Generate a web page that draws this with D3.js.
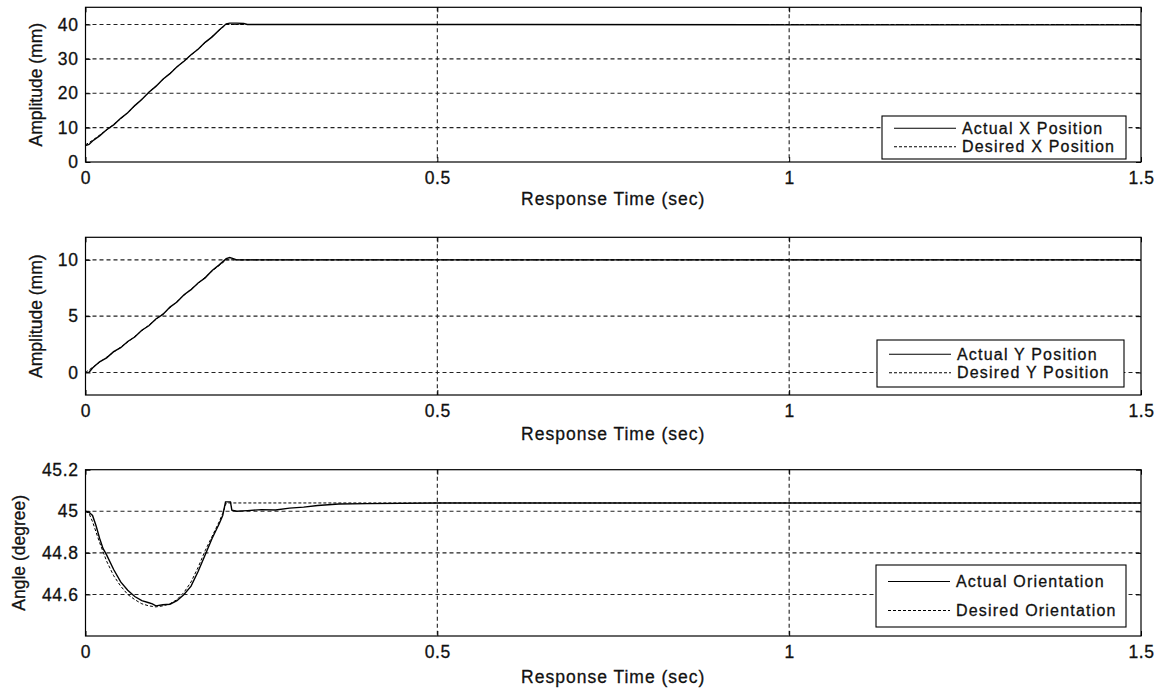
<!DOCTYPE html>
<html>
<head>
<meta charset="utf-8">
<script src="https://cdn.jsdelivr.net/npm/d3@7"></script>
<style>
  html, body { margin: 0; padding: 0; background: #fff; }
  svg { display: block; }
  text { font-family: "Liberation Sans", Arial, sans-serif; fill: #111; }
</style>
</head>
<body>
<svg id="chart" width="1164" height="692"></svg>
<script>
// ---------------- DATA ----------------
const xTicks = [0, 0.5, 1, 1.5];
const xTickLabels = ["0", "0.5", "1", "1.5"];
const xGridValues = [0.5, 1];

// Panel 1 : X position (mm)
const p1Ticks = [0, 10, 20, 30, 40];
const p1Grid = [10, 20, 30, 40];
const xDesiredT = [0, 0.01, 0.02, 0.03, 0.04, 0.05, 0.06, 0.07, 0.08, 0.09, 0.10, 0.11, 0.12, 0.13, 0.14, 0.15, 0.16, 0.17, 0.18, 0.19, 0.20, 1.5];
const xDesired  = [5, 6.3, 7.8, 9.3, 10.9, 12.6, 14.4, 16.3, 18.3, 20.2, 22.1, 24.0, 25.8, 27.6, 29.4, 31.1, 32.9, 34.7, 36.5, 38.3, 40, 40];
const xActualT = [0, 0.005, 0.01, 0.02, 0.03, 0.04, 0.05, 0.06, 0.07, 0.08, 0.09, 0.10, 0.11, 0.12, 0.13, 0.14, 0.15, 0.16, 0.17, 0.18, 0.19, 0.20, 0.205, 0.215, 0.225, 0.23, 0.3, 0.5, 1.0, 1.5];
const xActual  = [4.8, 5.1, 6.1, 7.6, 9.4, 10.8, 12.7, 14.3, 16.4, 18.2, 20.3, 22.0, 24.1, 25.7, 27.7, 29.3, 31.2, 32.8, 34.8, 36.4, 38.4, 40.2, 40.4, 40.4, 40.3, 40.0, 40.0, 40.0, 39.9, 39.9];

// Panel 2 : Y position (mm)
const p2Ticks = [0, 5, 10];
const p2Grid = [0, 5, 10];
const yDesiredT = [0, 0.01, 0.02, 0.03, 0.04, 0.05, 0.06, 0.07, 0.08, 0.09, 0.10, 0.11, 0.12, 0.13, 0.14, 0.15, 0.16, 0.17, 0.18, 0.19, 0.20, 1.5];
const yDesired  = [0, 0.45, 0.9, 1.35, 1.8, 2.25, 2.7, 3.2, 3.7, 4.2, 4.7, 5.2, 5.75, 6.3, 6.85, 7.4, 7.9, 8.45, 9.0, 9.5, 10.0, 10.0];
const yActualT = [0.005, 0.01, 0.02, 0.03, 0.04, 0.05, 0.06, 0.07, 0.08, 0.09, 0.10, 0.11, 0.12, 0.13, 0.14, 0.15, 0.16, 0.17, 0.18, 0.19, 0.20, 0.205, 0.21, 0.215, 1.5];
const yActual  = [0.02, 0.4, 0.95, 1.3, 1.85, 2.2, 2.75, 3.15, 3.75, 4.15, 4.75, 5.15, 5.8, 6.25, 6.9, 7.35, 7.95, 8.4, 9.05, 9.55, 10.1, 10.2, 10.1, 10.0, 10.0];

// Panel 3 : Orientation (degree)
const p3Ticks = [44.6, 44.8, 45, 45.2];
const p3Grid = [44.6, 44.8, 45];
const thDesiredT = [0, 0.005, 0.01, 0.015, 0.02, 0.03, 0.04, 0.05, 0.06, 0.07, 0.08, 0.09, 0.10, 0.11, 0.12, 0.13, 0.14, 0.15, 0.16, 0.17, 0.18, 0.19, 0.195, 0.2, 1.5];
const thDesired  = [45.0, 44.99, 44.95, 44.9, 44.85, 44.76, 44.69, 44.64, 44.6, 44.575, 44.555, 44.545, 44.54, 44.545, 44.555, 44.575, 44.61, 44.66, 44.73, 44.81, 44.88, 44.95, 44.99, 45.04, 45.04];
const thActualT = [0, 0.005, 0.01, 0.015, 0.02, 0.025, 0.03, 0.04, 0.05, 0.06, 0.07, 0.08, 0.09, 0.095, 0.10, 0.11, 0.12, 0.13, 0.14, 0.15, 0.16, 0.17, 0.18, 0.19, 0.195, 0.199, 0.206, 0.208, 0.215, 0.23, 0.25, 0.27, 0.29, 0.31, 0.33, 0.36, 0.40, 0.5, 1.0, 1.5];
const thActual  = [45.0, 44.995, 44.98, 44.93, 44.87, 44.82, 44.79, 44.72, 44.66, 44.62, 44.59, 44.57, 44.56, 44.555, 44.545, 44.55, 44.553, 44.57, 44.6, 44.64, 44.71, 44.79, 44.87, 44.94, 44.98, 45.045, 45.045, 45.005, 45.0, 45.003, 45.008, 45.006, 45.015, 45.02, 45.028, 45.035, 45.037, 45.04, 45.04, 45.04];

const legendNames1 = ["Actual X Position", "Desired X Position"];
const legendNames2 = ["Actual Y Position", "Desired Y Position"];
const legendNames3 = ["Actual Orientation", "Desired Orientation"];
const yLabels = ["Amplitude (mm)", "Amplitude (mm)", "Angle (degree)"];
const xLabel = "Response Time (sec)";

// ---------------- LAYOUT ----------------
const svg = d3.select("#chart");
const X0 = 85.5, X1 = 1141;
const x = d3.scaleLinear().domain([0, 1.5]).range([X0, X1]);
const FONT = "Liberation Sans, Arial, sans-serif";

const panels = [
  { top: 7.3, bottom: 162, domain: [0, 45], ticks: p1Ticks, grid: p1Grid, fmt: d => d,
    actual: [xActualT, xActual], desired: [xDesiredT, xDesired], names: legendNames1,
    ylab: yLabels[0], ylabX: 36, xlabY: 199,
    legend: { x: 882, y: 116, w: 244, h: 43, rowGap: 18.5 } },
  { top: 237.3, bottom: 395, domain: [-2, 12], ticks: p2Ticks, grid: p2Grid, fmt: d => d,
    actual: [yActualT, yActual], desired: [yDesiredT, yDesired], names: legendNames2,
    ylab: yLabels[1], ylabX: 36, xlabY: 434,
    legend: { x: 877, y: 340, w: 247, h: 47, rowGap: 18.5 } },
  { top: 469.7, bottom: 636, domain: [44.4, 45.2], ticks: p3Ticks, grid: p3Grid, fmt: d => (+d.toFixed(1)).toString(),
    actual: [thActualT, thActual], desired: [thDesiredT, thDesired], names: legendNames3,
    ylab: yLabels[2], ylabX: 18.5, xlabY: 677,
    legend: { x: 876, y: 565, w: 250, h: 62, rowGap: 29 } }
];

function styleText(sel, size, spacing) {
  sel.attr("font-size", size).attr("font-family", FONT)
    .attr("letter-spacing", spacing)
    .attr("fill", "#111").attr("stroke", "#111").attr("stroke-width", 0.3);
}

panels.forEach(p => {
  const y = d3.scaleLinear().domain(p.domain).range([p.bottom, p.top]);
  const g = svg.append("g");

  // grid
  g.append("g").selectAll("line").data(p.grid.filter(v => v > p.domain[0] && v < p.domain[1]))
    .join("line")
    .attr("x1", X0).attr("x2", X1)
    .attr("y1", d => y(d)).attr("y2", d => y(d))
    .attr("stroke", "#222").attr("stroke-width", 1.1).attr("stroke-dasharray", "4,3");
  g.append("g").selectAll("line").data(xGridValues).join("line")
    .attr("x1", d => x(d)).attr("x2", d => x(d))
    .attr("y1", p.top).attr("y2", p.bottom)
    .attr("stroke", "#222").attr("stroke-width", 1.1).attr("stroke-dasharray", "4,3");

  // lines
  const lineGen = d3.line().x(d => x(d[0])).y(d => y(d[1]));
  const desiredPts = p.desired[0].map((t, i) => [t, p.desired[1][i]]);
  const actualPts = p.actual[0].map((t, i) => [t, p.actual[1][i]]);
  g.append("path").attr("d", lineGen(desiredPts)).attr("fill", "none")
    .attr("stroke", "#000").attr("stroke-width", 1).attr("stroke-dasharray", "3,2");
  g.append("path").attr("d", lineGen(actualPts)).attr("fill", "none")
    .attr("stroke", "#000").attr("stroke-width", 1.4);

  // axes (ticks pointing inward)
  const xAxis = d3.axisBottom(x).tickValues(xTicks).tickFormat((d, i) => xTickLabels[i])
    .tickSizeInner(-5).tickSizeOuter(0).tickPadding(10);
  const gx = g.append("g").attr("transform", `translate(0,${p.bottom})`).call(xAxis);
  gx.select(".domain").remove();
  styleText(gx.selectAll("text"), 17.5, 0.6);

  const gxt = g.append("g").attr("transform", `translate(0,${p.top})`)
    .call(d3.axisTop(x).tickValues(xTicks).tickFormat("").tickSizeInner(-5).tickSizeOuter(0));
  gxt.select(".domain").remove();

  const yAxis = d3.axisLeft(y).tickValues(p.ticks).tickFormat(p.fmt)
    .tickSizeInner(-5).tickSizeOuter(0).tickPadding(7);
  const gy = g.append("g").attr("transform", `translate(${X0},0)`).call(yAxis);
  gy.select(".domain").remove();
  styleText(gy.selectAll("text"), 17.5, 0.6);

  const gyr = g.append("g").attr("transform", `translate(${X1},0)`)
    .call(d3.axisRight(y).tickValues(p.ticks).tickFormat("").tickSizeInner(-5).tickSizeOuter(0));
  gyr.select(".domain").remove();

  // frame
  g.append("rect").attr("x", X0).attr("y", p.top).attr("width", X1 - X0).attr("height", p.bottom - p.top)
    .attr("fill", "none").attr("stroke", "#000").attr("stroke-width", 1.2);

  // axis labels
  styleText(g.append("text").attr("x", (X0 + X1) / 2).attr("y", p.xlabY).attr("dy", "0.35em")
    .attr("text-anchor", "middle").text(xLabel), 17.5, 1);
  styleText(g.append("text")
    .attr("transform", `translate(${p.ylabX},${(p.top + p.bottom) / 2}) rotate(-90)`)
    .attr("dy", "0.35em").attr("text-anchor", "middle").text(p.ylab), 17.5, 0);

  // legend
  const L = p.legend;
  const lg = g.append("g");
  lg.append("rect").attr("x", L.x).attr("y", L.y).attr("width", L.w).attr("height", L.h)
    .attr("fill", "#fff").attr("stroke", "#000").attr("stroke-width", 1.1);
  const cy = L.y + L.h / 2;
  const rows = [cy - L.rowGap / 2, cy + L.rowGap / 2];
  p.names.forEach((name, i) => {
    lg.append("line").attr("x1", L.x + 12).attr("x2", L.x + 74)
      .attr("y1", rows[i]).attr("y2", rows[i])
      .attr("stroke", "#000").attr("stroke-width", i === 0 ? 1.2 : 1)
      .attr("stroke-dasharray", i === 0 ? null : "3,2");
    styleText(lg.append("text").attr("x", L.x + 80).attr("y", rows[i]).attr("dy", "0.35em").text(name), 16, 1.2);
  });
});
</script>
</body>
</html>
